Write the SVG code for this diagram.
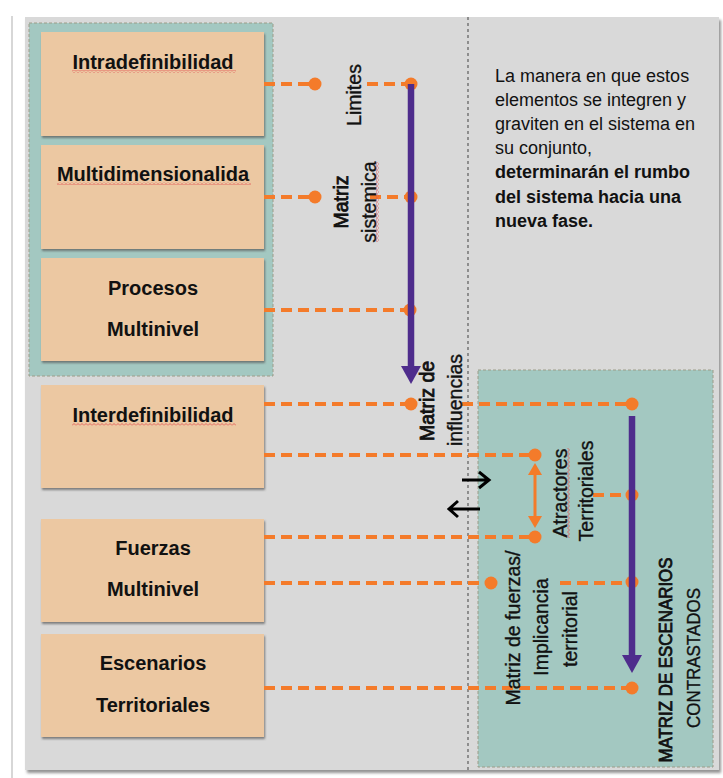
<svg xmlns="http://www.w3.org/2000/svg" width="723" height="778" viewBox="0 0 723 778">
<defs>
<style>
.t{font-family:"Liberation Sans",Arial,sans-serif;fill:#111}
.bx{font-size:20px;font-weight:bold;text-anchor:middle}
.lb{font-size:19.5px;text-anchor:middle;stroke:#111;stroke-width:0.35}
.hv{stroke-width:0.8}
.rt{font-size:18px}
.box{fill:#ECC8A2;filter:url(#sh)}
.cont{fill:#A3C8C1;stroke:#9C9C88;stroke-width:1;stroke-dasharray:3 2}
.dl{fill:none;stroke:#F47B2A;stroke-width:4;stroke-dasharray:11 6}
.dot{fill:#F47B2A}
.pl{stroke:#4E2C8C;stroke-width:6.5;fill:none}
.ph{fill:#4E2C8C}
.ba{fill:none;stroke:#000;stroke-width:3}
</style>
<filter id="sh" x="-5%" y="-5%" width="110%" height="115%">
<feDropShadow dx="1" dy="2" stdDeviation="1.2" flood-color="#555" flood-opacity="0.7"/>
</filter>
<filter id="bgsh" x="-2%" y="-2%" width="104%" height="104%">
<feDropShadow dx="2" dy="3" stdDeviation="1.5" flood-color="#777" flood-opacity="0.8"/>
</filter>
<pattern id="sqh" width="4" height="3" patternUnits="userSpaceOnUse">
<path d="M0 2.5 L2 0.5 L4 2.5" fill="none" stroke="#E05050" stroke-width="0.8"/>
</pattern>
<pattern id="sqv" width="3" height="4" patternUnits="userSpaceOnUse">
<path d="M0.5 0 L2.5 2 L0.5 4" fill="none" stroke="#E05050" stroke-width="0.8"/>
</pattern>
</defs>

<rect x="0" y="0" width="723" height="778" fill="#FFFFFF"/>
<line x1="12" y1="16" x2="12" y2="778" stroke="#BDBDBD" stroke-width="1.2"/>
<rect id="background" x="25" y="17" width="694" height="753" fill="#D9D9D9" filter="url(#bgsh)"/>
<line x1="468" y1="17" x2="468" y2="770" stroke="#666" stroke-width="1.3" stroke-dasharray="3 3"/>

<rect id="left-container" class="cont" x="29" y="23" width="244" height="353"/>
<rect id="right-container" class="cont" x="478" y="370" width="235" height="397"/>

<g id="intradefinibilidad">
<rect class="box" x="41" y="32" width="223" height="104"/>
<text class="t bx" x="153" y="69">Intradefinibilidad</text>
<rect x="72" y="70" width="164" height="3" fill="url(#sqh)"/>
</g>
<g id="multidimensionalidad">
<rect class="box" x="41" y="145" width="223" height="104"/>
<text class="t bx" x="153" y="181">Multidimensionalida</text>
<rect x="57" y="182" width="194" height="3" fill="url(#sqh)"/>
</g>
<g id="procesos-multinivel">
<rect class="box" x="41" y="258" width="223" height="103"/>
<text class="t bx" x="153" y="295">Procesos</text>
<text class="t bx" x="153" y="336">Multinivel</text>
</g>
<g id="interdefinibilidad">
<rect class="box" x="41" y="385" width="223" height="103"/>
<text class="t bx" x="153" y="422">Interdefinibilidad</text>
<rect x="72" y="423" width="164" height="3" fill="url(#sqh)"/>
</g>
<g id="fuerzas-multinivel">
<rect class="box" x="41" y="519" width="223" height="103"/>
<text class="t bx" x="153" y="555">Fuerzas</text>
<text class="t bx" x="153" y="596">Multinivel</text>
</g>
<g id="escenarios-territoriales">
<rect class="box" x="41" y="634" width="223" height="103"/>
<text class="t bx" x="153" y="670">Escenarios</text>
<text class="t bx" x="153" y="712">Territoriales</text>
</g>

<g id="connectors">
<path class="dl" d="M264 84 H315 M367 84 H411"/>
<path class="dl" d="M264 197 H315 M370 197 H411"/>
<path class="dl" d="M264 310 H410"/>
<path class="dl" d="M264 404 H411 M462 404 H632"/>
<path class="dl" d="M264 455 H535"/>
<path class="dl" d="M264 537 H535"/>
<path class="dl" d="M264 583 H491 M560 583 H632"/>
<path class="dl" d="M593 495 H632"/>
<path class="dl" d="M264 688 H632"/>
<circle class="dot" cx="315" cy="84" r="6.5"/>
<circle class="dot" cx="411" cy="84" r="6.5"/>
<circle class="dot" cx="315" cy="197" r="6.5"/>
<circle class="dot" cx="411" cy="197" r="6.5"/>
<circle class="dot" cx="410" cy="310" r="6.5"/>
<circle class="dot" cx="411" cy="404" r="6.5"/>
<circle class="dot" cx="632" cy="404" r="6.5"/>
<circle class="dot" cx="535" cy="455" r="6.5"/>
<circle class="dot" cx="535" cy="537" r="6.5"/>
<circle class="dot" cx="632" cy="495" r="6.5"/>
<circle class="dot" cx="491" cy="583" r="6.5"/>
<circle class="dot" cx="632" cy="582" r="6.5"/>
<circle class="dot" cx="632" cy="688" r="6.5"/>
<line class="pl" x1="411" y1="84" x2="411" y2="368"/>
<polygon class="ph" points="401,366 421,366 411,384"/>
<line class="pl" x1="632" y1="416" x2="632" y2="657"/>
<polygon class="ph" points="622,655 642,655 632,673"/>
<line x1="535" y1="470" x2="535" y2="521" stroke="#F47B2A" stroke-width="3"/>
<polygon class="dot" points="535,463 542,475 528,475"/>
<polygon class="dot" points="535,528 542,516 528,516"/>
<path class="ba" d="M462 480 H488 M479 472 L489 480 L479 488"/>
<path class="ba" d="M450 509 H480 M458 501 L449 509 L458 517"/>
</g>

<g id="labels">
<text class="t lb" transform="translate(361,95) rotate(-90)">Limites</text>
<text class="t lb hv" transform="translate(348,202) rotate(-90)">Matriz</text>
<text class="t lb" transform="translate(376,202) rotate(-90)">sistemica</text>
<rect x="376" y="162" width="3" height="80" fill="url(#sqv)"/>
<text class="t lb hv" transform="translate(434,401) rotate(-90)">Matriz de</text>
<text class="t lb" transform="translate(462,400) rotate(-90)">influencias</text>
<text class="t lb" transform="translate(567,493) rotate(-90)">Atractores</text>
<rect x="567" y="448" width="3" height="90" fill="url(#sqv)"/>
<text class="t lb" transform="translate(593,491) rotate(-90)">Territoriales</text>
<text class="t lb" transform="translate(520,628) rotate(-90)">Matriz de fuerzas/</text>
<text class="t lb" transform="translate(548,627) rotate(-90)">Implicancia</text>
<text class="t lb" transform="translate(577,629) rotate(-90)">territorial</text>
<text class="t lb hv" textLength="205" lengthAdjust="spacingAndGlyphs" style="font-size:18px" transform="translate(672,660) rotate(-90)">MATRIZ DE ESCENARIOS</text>
<text class="t lb" textLength="140" lengthAdjust="spacingAndGlyphs" style="font-size:18px" transform="translate(700,658) rotate(-90)">CONTRASTADOS</text>
</g>

<g id="note">
<text class="t rt" x="495" y="82">La manera en que estos</text>
<text class="t rt" x="495" y="106">elementos se integren y</text>
<text class="t rt" x="495" y="130">graviten en el sistema en</text>
<text class="t rt" x="495" y="154">su conjunto,</text>
<text class="t rt" x="495" y="178" font-weight="bold">determinarán el rumbo</text>
<text class="t rt" x="495" y="203" font-weight="bold">del sistema hacia una</text>
<text class="t rt" x="495" y="227" font-weight="bold">nueva fase.</text>
</g>
</svg>
